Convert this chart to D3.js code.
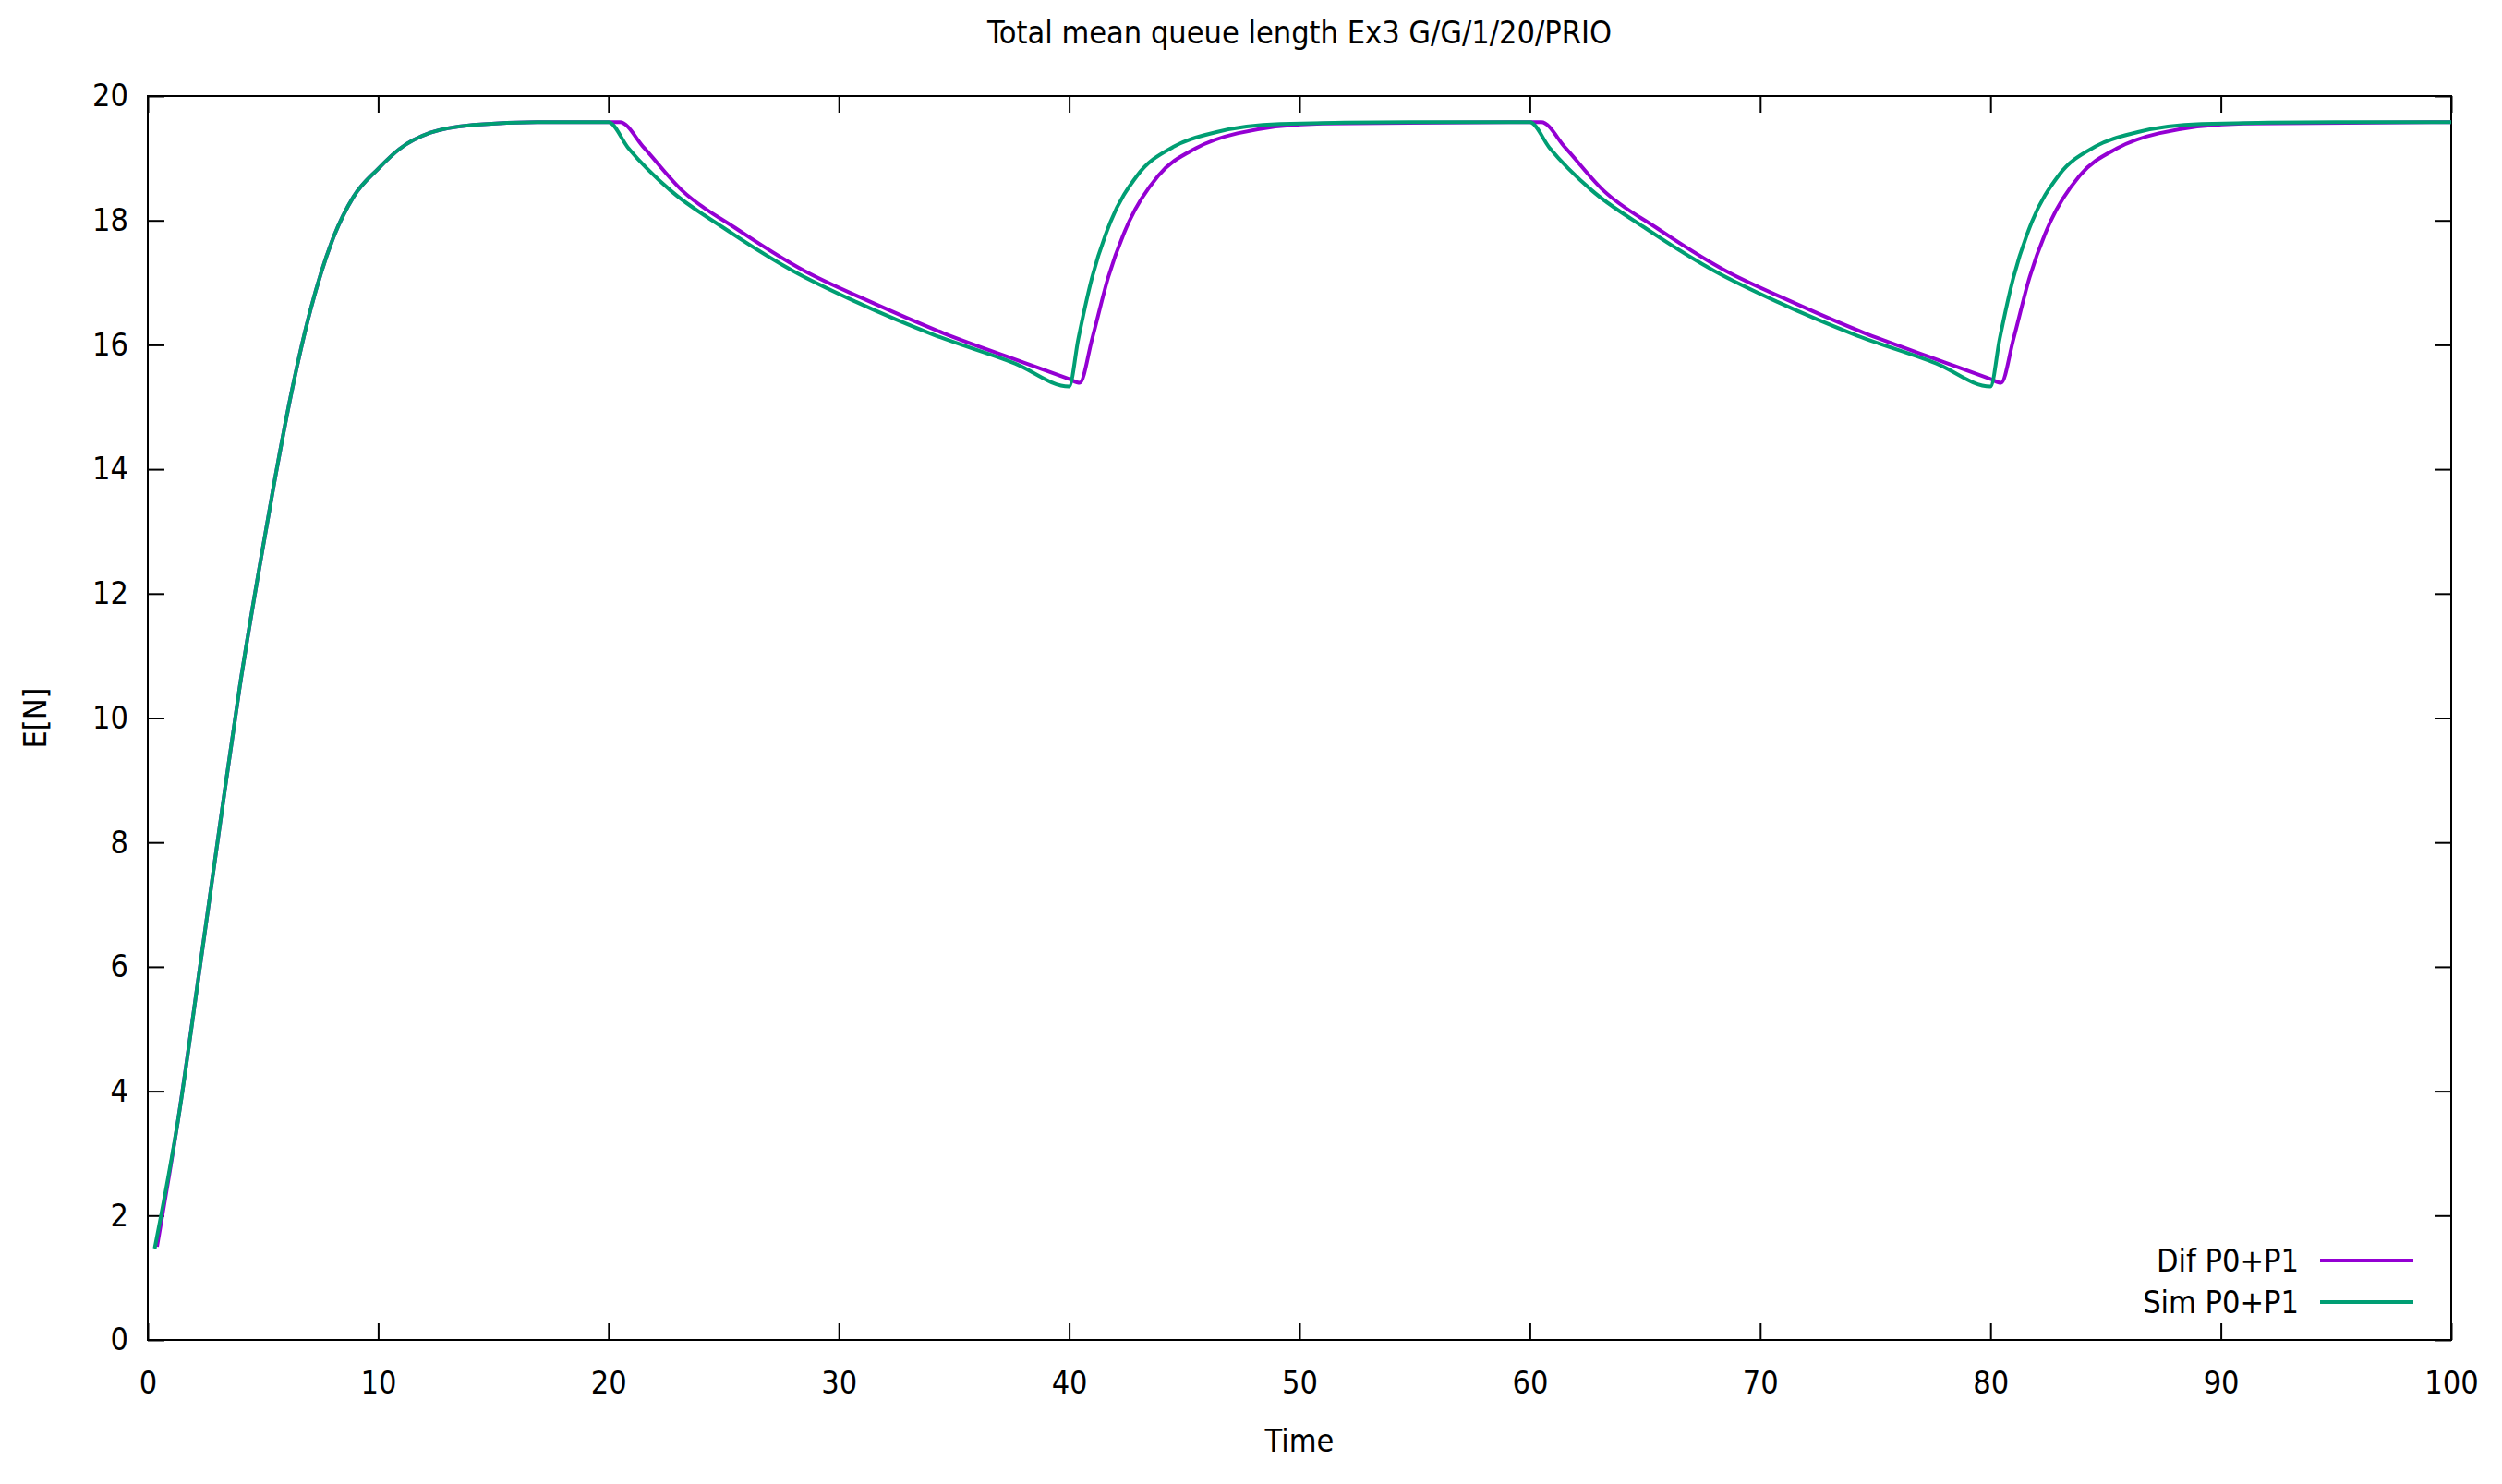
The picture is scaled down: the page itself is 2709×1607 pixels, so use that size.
<!DOCTYPE html>
<html><head><meta charset="utf-8">
<script src="https://cdn.jsdelivr.net/npm/d3@7"></script>
<style>body{margin:0;background:#fff}text{font-family:"DejaVu Sans Condensed","DejaVu Sans",sans-serif;fill:#000}</style>
</head><body><svg id="c" width="2709" height="1607"></svg>
<script>
const title = "Total mean queue length Ex3 G/G/1/20/PRIO";
const xTicks = [0,10,20,30,40,50,60,70,80,90,100];
const yTicks = [0,2,4,6,8,10,12,14,16,18,20];
const seriesNames = ["Dif P0+P1","Sim P0+P1"];
const seriesColors = ["#9400d3","#009e73"];
// Dif P0+P1
const difT = [0.4,1.33,2.27,3.2,4.0,4.8,5.47,6.27,7.07,8.0,8.93,10,10.93,12.27,14.27,16.9,20.5,
  21.54,23.2,25.5,28.5,31.2,34.6,38.0,40.0,40.46,41.0,41.7,42.6,43.87,45.5,47.3,51,60.5,
  61.54,63.2,65.5,68.5,71.2,74.6,78.0,80.0,80.46,81.0,81.7,82.6,83.87,85.5,87.3,91,100];
const difY = [1.5,3.57,6.01,8.46,10.52,12.32,13.74,15.29,16.57,17.67,18.38,18.83,19.15,19.41,19.54,19.58,19.58,
  19.17,18.48,17.88,17.19,16.72,16.18,15.72,15.45,15.39,16.10,17.09,17.98,18.72,19.16,19.40,19.56,19.58,
  19.17,18.48,17.88,17.19,16.72,16.18,15.72,15.45,15.39,16.10,17.09,17.98,18.72,19.16,19.40,19.56,19.58];
// Sim P0+P1
const simT = [0.3,1.33,2.27,3.2,4.0,4.8,5.47,6.27,7.07,8.0,8.93,10,10.93,12.27,14.27,16.9,20.0,
  20.85,22.7,25.0,28.0,30.75,34.2,37.65,40.0,40.4,41.0,41.8,42.95,44.56,46.4,49.16,55,60.0,
  60.85,62.7,65.0,68.0,70.75,74.2,77.65,80.0,80.4,81.0,81.8,82.95,84.56,86.4,89.16,95,100];
const simY = [1.47,3.57,6.01,8.46,10.52,12.32,13.74,15.29,16.57,17.67,18.38,18.83,19.15,19.41,19.54,19.58,19.58,
  19.17,18.48,17.88,17.19,16.69,16.15,15.70,15.33,16.10,17.09,17.98,18.72,19.19,19.42,19.55,19.58,19.58,
  19.17,18.48,17.88,17.19,16.69,16.15,15.70,15.33,16.10,17.09,17.98,18.72,19.19,19.42,19.55,19.58,19.58];

const svg = d3.select("#c");
const L=160,R=2654,T=104,B=1451;
const x = d3.scaleLinear().domain([0,100]).range([L,R]);
const y = d3.scaleLinear().domain([0,20]).range([B,T]);
const fs = 34;

const gx = svg.append("g").attr("transform",`translate(0,${B})`)
  .call(d3.axisBottom(x).tickValues(xTicks).tickSize(-18).tickPadding(34).tickFormat(d3.format("d")));
const gxt = svg.append("g").attr("transform",`translate(0,${T})`)
  .call(d3.axisTop(x).tickValues(xTicks).tickSize(-18).tickFormat(""));
const gy = svg.append("g").attr("transform",`translate(${L},0)`)
  .call(d3.axisLeft(y).tickValues(yTicks).tickSize(-18).tickPadding(21).tickFormat(d3.format("d")));
const gyr = svg.append("g").attr("transform",`translate(${R},0)`)
  .call(d3.axisRight(y).tickValues(yTicks).tickSize(-18).tickFormat(""));
[gx,gxt,gy,gyr].forEach(g=>{g.select(".domain").remove();g.selectAll("line").attr("stroke","#000").attr("stroke-width",2);
  g.selectAll("text").attr("font-size",fs).style("font-family",'"DejaVu Sans Condensed","DejaVu Sans",sans-serif');});
gx.selectAll("text").attr("dy","0.71em");
svg.append("rect").attr("x",L).attr("y",T).attr("width",R-L).attr("height",B-T)
  .attr("fill","none").attr("stroke","#000").attr("stroke-width",2);

const line = d3.line().x(d=>x(d[0])).y(d=>y(d[1])).curve(d3.curveMonotoneX);
const sets = [[difT,difY],[simT,simY]];
sets.forEach((s,i)=>{
  svg.append("path").datum(s[0].map((t,k)=>[t,s[1][k]]))
    .attr("d",line).attr("fill","none").attr("stroke",seriesColors[i]).attr("stroke-width",4);
});

// legend
seriesNames.forEach((n,i)=>{
  const ly = 1365 + i*45;
  svg.append("text").attr("x",2489).attr("y",ly).attr("dy","0.35em").attr("text-anchor","end").attr("font-size",fs).text(n);
  svg.append("line").attr("x1",2512).attr("x2",2613).attr("y1",ly).attr("y2",ly)
    .attr("stroke",seriesColors[i]).attr("stroke-width",4);
});

svg.append("text").attr("x",(L+R)/2).attr("y",35).attr("dy","0.35em").attr("text-anchor","middle").attr("font-size",fs).text(title);
svg.append("text").attr("x",(L+R)/2).attr("y",1560).attr("dy","0.35em").attr("text-anchor","middle").attr("font-size",fs).text("Time");
svg.append("text").attr("transform",`translate(38,${(T+B)/2}) rotate(-90)`).attr("dy","0.35em").attr("text-anchor","middle").attr("font-size",fs).text("E[N]");
</script></body></html>
